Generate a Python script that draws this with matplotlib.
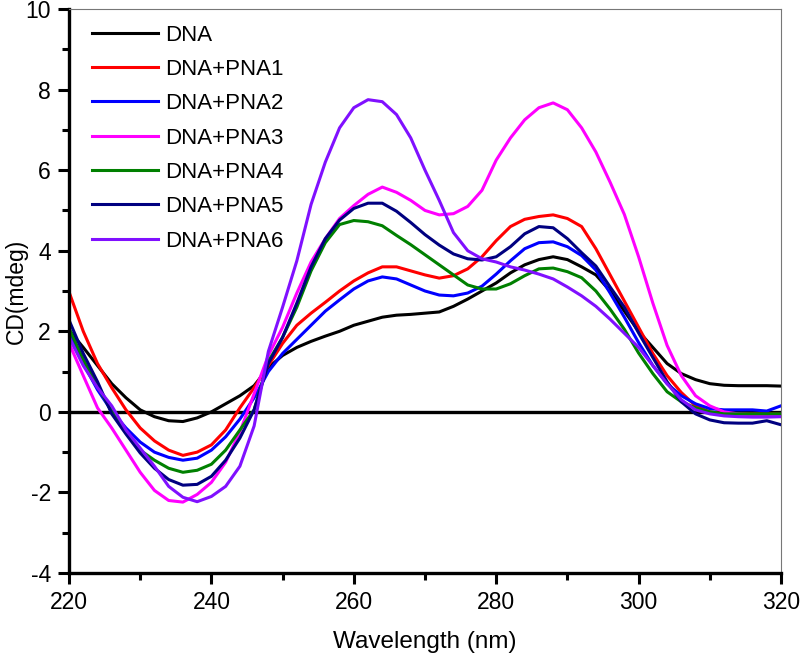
import numpy as np
import matplotlib
matplotlib.use("Agg")
import matplotlib.pyplot as plt
from matplotlib.ticker import MultipleLocator

# ----------------------------------------------------------
# DATA
# ----------------------------------------------------------
wavelength = np.arange(220, 322, 2)

dna = [2.03, 1.6, 1.15, 0.7, 0.35, 0.05, -0.12, -0.22, -0.24, -0.15,
       0.0, 0.2, 0.4, 0.65, 1.1, 1.4, 1.6, 1.75, 1.88, 2.0,
       2.15, 2.25, 2.35, 2.4, 2.42, 2.45, 2.48, 2.62, 2.8, 3.0,
       3.2, 3.45, 3.65, 3.78, 3.85, 3.78, 3.6, 3.4, 3.0, 2.5,
       2.0, 1.6, 1.2, 0.95, 0.8, 0.7, 0.66, 0.65, 0.65, 0.65, 0.64]

pna1 = [2.98, 2.0, 1.2, 0.6, 0.05, -0.4, -0.72, -0.95, -1.08, -1.0,
        -0.82, -0.45, 0.1, 0.6, 1.15, 1.7, 2.15, 2.45, 2.72, 3.0,
        3.25, 3.45, 3.6, 3.6, 3.5, 3.4, 3.32, 3.38, 3.55, 3.85,
        4.25, 4.6, 4.78, 4.85, 4.89, 4.8, 4.6, 4.05, 3.4, 2.75,
        2.1, 1.45, 0.9, 0.48, 0.15, 0.0, -0.05, -0.05, -0.05, -0.05, -0.06]

pna2 = [1.96, 1.2, 0.55, 0.02, -0.4, -0.75, -1.0, -1.13, -1.2, -1.15,
        -0.95, -0.62, -0.18, 0.35, 1.0, 1.45, 1.8, 2.15, 2.5, 2.78,
        3.05, 3.25, 3.35, 3.3, 3.15, 3.0, 2.9, 2.88, 2.95, 3.12,
        3.42, 3.75, 4.05, 4.2, 4.22, 4.1, 3.88, 3.52, 2.95, 2.35,
        1.72, 1.15, 0.7, 0.4, 0.2, 0.08, 0.05, 0.05, 0.05, 0.02, 0.15]

pna3 = [1.71, 0.9, 0.1, -0.4, -0.95, -1.5, -1.95, -2.2, -2.24, -2.05,
        -1.75, -1.25, -0.5, 0.45, 1.4, 2.1, 2.95, 3.72, 4.3, 4.8,
        5.12, 5.4, 5.58, 5.45, 5.25, 5.0, 4.89, 4.92, 5.1, 5.5,
        6.25, 6.8, 7.25, 7.55, 7.67, 7.5, 7.05, 6.45, 5.7, 4.9,
        3.85, 2.7, 1.65, 0.9, 0.4, 0.15, 0.0, -0.05, -0.07, -0.1, -0.1]

pna4 = [2.08, 1.3, 0.65, 0.0, -0.5, -0.95, -1.2, -1.4, -1.5, -1.45,
        -1.3, -0.95, -0.45, 0.05, 1.25, 1.85, 2.6, 3.5, 4.2, 4.65,
        4.75, 4.72, 4.62, 4.38, 4.15, 3.9, 3.65, 3.4, 3.15, 3.05,
        3.05, 3.18, 3.38, 3.55, 3.57, 3.48, 3.33, 3.0, 2.55, 2.05,
        1.46, 0.95, 0.5, 0.25, 0.1, 0.0, -0.05, -0.05, -0.05, -0.05, -0.05]

pna5 = [2.28, 1.45, 0.75, -0.05, -0.55, -1.02, -1.4, -1.68, -1.82, -1.8,
        -1.6, -1.2, -0.65, 0.05, 1.2, 1.85, 2.7, 3.6, 4.3, 4.76,
        5.05, 5.18, 5.18, 4.98, 4.7, 4.4, 4.14, 3.92, 3.8, 3.77,
        3.85, 4.1, 4.42, 4.6, 4.57, 4.3, 3.95, 3.62, 3.1, 2.6,
        1.96, 1.35, 0.75, 0.25, -0.05, -0.2, -0.27, -0.28, -0.28, -0.22, -0.32]

pna6 = [1.86, 1.15, 0.6, 0.15, -0.45, -0.9, -1.35, -1.85, -2.12, -2.23,
        -2.1, -1.85, -1.35, -0.35, 1.5, 2.6, 3.75, 5.15, 6.2, 7.05,
        7.55, 7.75, 7.7, 7.38, 6.8, 6.0, 5.25, 4.45, 4.0, 3.8,
        3.72, 3.6, 3.52, 3.42, 3.3, 3.1, 2.88, 2.62, 2.3, 1.95,
        1.6, 1.15, 0.7, 0.3, 0.05, -0.05, -0.1, -0.12, -0.13, -0.13, -0.12]

labels = ["DNA", "DNA+PNA1", "DNA+PNA2", "DNA+PNA3",
          "DNA+PNA4", "DNA+PNA5", "DNA+PNA6"]
colors = ["#000000", "#ff0000", "#0000ff", "#ff00ff",
          "#008000", "#000080", "#8010ff"]

# ----------------------------------------------------------
# PLOT
# ----------------------------------------------------------
plt.rcParams["font.family"] = ["Liberation Sans", "DejaVu Sans"]
plt.rcParams["axes.unicode_minus"] = False

fig = plt.figure(figsize=(8, 6.59), dpi=100)
ax = fig.add_axes([0.08625, 0.1305, 0.89, 0.8558])

series = [dna, pna1, pna2, pna3, pna4, pna5, pna6]
for y, lab, c in zip(series, labels, colors):
    ax.plot(wavelength, y, color=c, lw=2.2, label=lab)

ax.axhline(0, color="black", lw=2.4, zorder=1)

ax.set_xlim(220, 320)
ax.set_ylim(-4, 10)
ax.xaxis.set_major_locator(MultipleLocator(20))
ax.xaxis.set_minor_locator(MultipleLocator(10))
ax.yaxis.set_major_locator(MultipleLocator(2))
ax.yaxis.set_minor_locator(MultipleLocator(1))
ax.tick_params(which="both", direction="out", width=2.2, labelsize=16.5,
               top=False, right=False)
ax.tick_params(which="major", length=8, pad=5)
ax.tick_params(which="minor", length=5)

for side in ["left", "bottom"]:
    ax.spines[side].set_linewidth(2.4)
for side in ["top", "right"]:
    ax.spines[side].set_linewidth(0.8)
    ax.spines[side].set_color("#777777")

ax.set_xlabel("Wavelength (nm)", fontsize=17.5, labelpad=12)
ax.set_ylabel("CD(mdeg)", fontsize=16.5)
ax.yaxis.set_label_coords(-0.058, 0.5)

ax.legend(loc="upper left", bbox_to_anchor=(0.01, 1.0), frameon=False,
          fontsize=16, handlelength=3.0, handletextpad=0.3,
          labelspacing=0.6, borderaxespad=0.3)

fig.savefig("out.png", dpi=100)
